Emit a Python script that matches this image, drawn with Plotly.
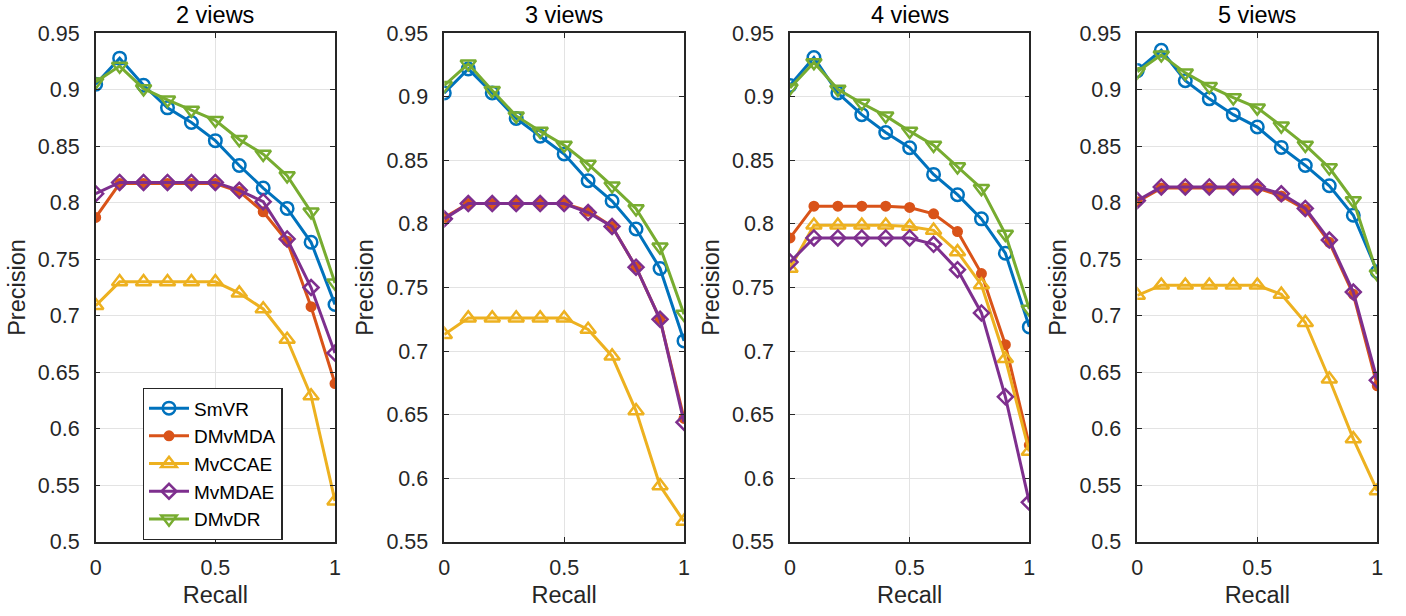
import plotly.graph_objects as go

recall = [0, 0.1, 0.2, 0.3, 0.4, 0.5, 0.6, 0.7, 0.8, 0.9, 1.0]
methods = ["SmVR", "DMvMDA", "MvCCAE", "MvMDAE", "DMvDR"]
titles = ["2 views", "3 views", "4 views", "5 views"]

# 2 views
v2_SmVR   = [0.905, 0.928, 0.904, 0.884, 0.871, 0.855, 0.833, 0.813, 0.795, 0.765, 0.710]
v2_DMvMDA = [0.787, 0.817, 0.817, 0.817, 0.817, 0.817, 0.810, 0.792, 0.766, 0.708, 0.640]
v2_MvCCAE = [0.709, 0.730, 0.730, 0.730, 0.730, 0.730, 0.720, 0.706, 0.679, 0.629, 0.536]
v2_MvMDAE = [0.808, 0.818, 0.818, 0.818, 0.818, 0.818, 0.811, 0.801, 0.768, 0.725, 0.667]
v2_DMvDR  = [0.907, 0.921, 0.901, 0.891, 0.882, 0.873, 0.856, 0.843, 0.824, 0.792, 0.729]

# 3 views
v3_SmVR   = [0.903, 0.922, 0.903, 0.883, 0.869, 0.855, 0.834, 0.818, 0.796, 0.765, 0.708]
v3_DMvMDA = [0.805, 0.816, 0.816, 0.816, 0.816, 0.816, 0.810, 0.798, 0.766, 0.725, 0.647]
v3_MvCCAE = [0.713, 0.726, 0.726, 0.726, 0.726, 0.726, 0.717, 0.696, 0.653, 0.594, 0.566]
v3_MvMDAE = [0.804, 0.816, 0.816, 0.816, 0.816, 0.816, 0.809, 0.798, 0.766, 0.725, 0.644]
v3_DMvDR  = [0.909, 0.926, 0.905, 0.885, 0.873, 0.862, 0.847, 0.830, 0.812, 0.782, 0.729]

# 4 views
v4_SmVR   = [0.909, 0.931, 0.903, 0.886, 0.872, 0.860, 0.839, 0.823, 0.804, 0.777, 0.719]
v4_DMvMDA = [0.789, 0.814, 0.814, 0.814, 0.814, 0.813, 0.808, 0.794, 0.761, 0.705, 0.626]
v4_MvCCAE = [0.765, 0.799, 0.799, 0.799, 0.799, 0.798, 0.795, 0.778, 0.752, 0.694, 0.621]
v4_MvMDAE = [0.770, 0.789, 0.789, 0.789, 0.789, 0.789, 0.784, 0.764, 0.730, 0.664, 0.581]
v4_DMvDR  = [0.907, 0.927, 0.906, 0.895, 0.885, 0.873, 0.862, 0.845, 0.828, 0.792, 0.733]

# 5 views
v5_SmVR   = [0.917, 0.935, 0.908, 0.892, 0.878, 0.867, 0.849, 0.833, 0.815, 0.789, 0.739]
v5_DMvMDA = [0.801, 0.813, 0.813, 0.813, 0.813, 0.813, 0.806, 0.794, 0.765, 0.719, 0.638]
v5_MvCCAE = [0.718, 0.727, 0.727, 0.727, 0.727, 0.727, 0.719, 0.694, 0.644, 0.591, 0.545]
v5_MvMDAE = [0.802, 0.814, 0.814, 0.814, 0.814, 0.814, 0.808, 0.795, 0.767, 0.721, 0.643]
v5_DMvDR  = [0.916, 0.931, 0.915, 0.903, 0.893, 0.884, 0.868, 0.851, 0.831, 0.802, 0.737]

y_ranges = [[0.5, 0.95], [0.55, 0.95], [0.55, 0.95], [0.5, 0.95]]

panels = [
    [v2_SmVR, v2_DMvMDA, v2_MvCCAE, v2_MvMDAE, v2_DMvDR],
    [v3_SmVR, v3_DMvMDA, v3_MvCCAE, v3_MvMDAE, v3_DMvDR],
    [v4_SmVR, v4_DMvMDA, v4_MvCCAE, v4_MvMDAE, v4_DMvDR],
    [v5_SmVR, v5_DMvMDA, v5_MvCCAE, v5_MvMDAE, v5_DMvDR],
]

colors = ["#0072BD", "#D95319", "#EDB120", "#7E2F8E", "#77AC30"]
symbols = ["circle-open", "circle", "triangle-up-open", "diamond-open", "triangle-down-open"]
msizes = [12.5, 8.5, 13.5, 11.5, 13.5]

W, H = 1406, 616
x_px = [(95.7, 335.0), (444.3, 684.0), (790.0, 1029.3), (1137.3, 1377.3)]
y_top, y_bot = 33.3, 541.7

FONT = "Liberation Sans, Arial, Helvetica, sans-serif"
AX = "#262626"

fig = go.Figure()
for p, series in enumerate(panels):
    xa = "x" if p == 0 else f"x{p+1}"
    ya = "y" if p == 0 else f"y{p+1}"
    for m, vals in enumerate(series):
        fig.add_trace(go.Scatter(
            x=recall, y=vals, mode="lines+markers", name=methods[m],
            legendgroup=methods[m], showlegend=(p == 0),
            line=dict(color=colors[m], width=3),
            marker=dict(symbol=symbols[m], size=msizes[m], color=colors[m],
                        line=dict(color=colors[m], width=2.5)),
            xaxis=xa, yaxis=ya,
        ))

layout = dict(
    width=W, height=H, margin=dict(l=0, r=0, t=0, b=0, autoexpand=False),
    paper_bgcolor="white", plot_bgcolor="white",
    font=dict(family=FONT, size=21, color=AX),
    showlegend=True,
    legend=dict(x=142.7 / W, y=1 - 388 / H, xanchor="left", yanchor="top",
                bgcolor="white", bordercolor=AX, borderwidth=1.3,
                font=dict(family=FONT, size=19, color="black"),
                tracegroupgap=0, itemwidth=40),
)
annotations = []
for p in range(4):
    xk = "xaxis" if p == 0 else f"xaxis{p+1}"
    yk = "yaxis" if p == 0 else f"yaxis{p+1}"
    ya = "y" if p == 0 else f"y{p+1}"
    xa = "x" if p == 0 else f"x{p+1}"
    x0, x1 = x_px[p]
    layout[xk] = dict(
        domain=[x0 / W, x1 / W], anchor=ya, range=[0, 1], automargin=False,
        tickvals=[0, 0.5, 1], ticktext=["0", "0.5", "1"],
        showgrid=True, gridcolor="#e3e3e3", gridwidth=1.3,
        zeroline=False, showline=True, linecolor=AX, linewidth=1.5,
        mirror="ticks", ticks="inside", ticklen=5, tickcolor=AX, tickwidth=1.3,
        tickfont=dict(size=21.5, color=AX), ticklabelstandoff=6,
        title=dict(text="Recall", font=dict(size=23.5, color=AX), standoff=7),
    )
    lo, hi = y_ranges[p]
    tv = [round(lo + 0.05 * i, 2) for i in range(int(round((hi - lo) / 0.05)) + 1)]
    layout[yk] = dict(
        domain=[1 - y_bot / H, 1 - y_top / H], anchor=xa, range=[lo, hi],
        automargin=False,
        tickvals=tv, ticktext=[("%g" % v) for v in tv],
        showgrid=True, gridcolor="#e3e3e3", gridwidth=1.3,
        zeroline=False, showline=True, linecolor=AX, linewidth=1.5,
        mirror="ticks", ticks="inside", ticklen=5, tickcolor=AX, tickwidth=1.3,
        tickfont=dict(size=21.5, color=AX), ticklabelstandoff=10,
        title=dict(text="Precision", font=dict(size=23.5, color=AX), standoff=6),
    )
    annotations.append(dict(
        text=titles[p], x=(x0 + x1) / 2 / W, y=1 - 15 / H, xref="paper", yref="paper",
        xanchor="center", yanchor="middle", showarrow=False,
        font=dict(size=23.5, color="black", family=FONT),
    ))
layout["annotations"] = annotations
fig.update_layout(**layout)
fig.write_html(
    "out.html",
    config={"displayModeBar": False},
    post_script="document.body.style.margin='0';document.body.style.overflow='hidden';",
)
